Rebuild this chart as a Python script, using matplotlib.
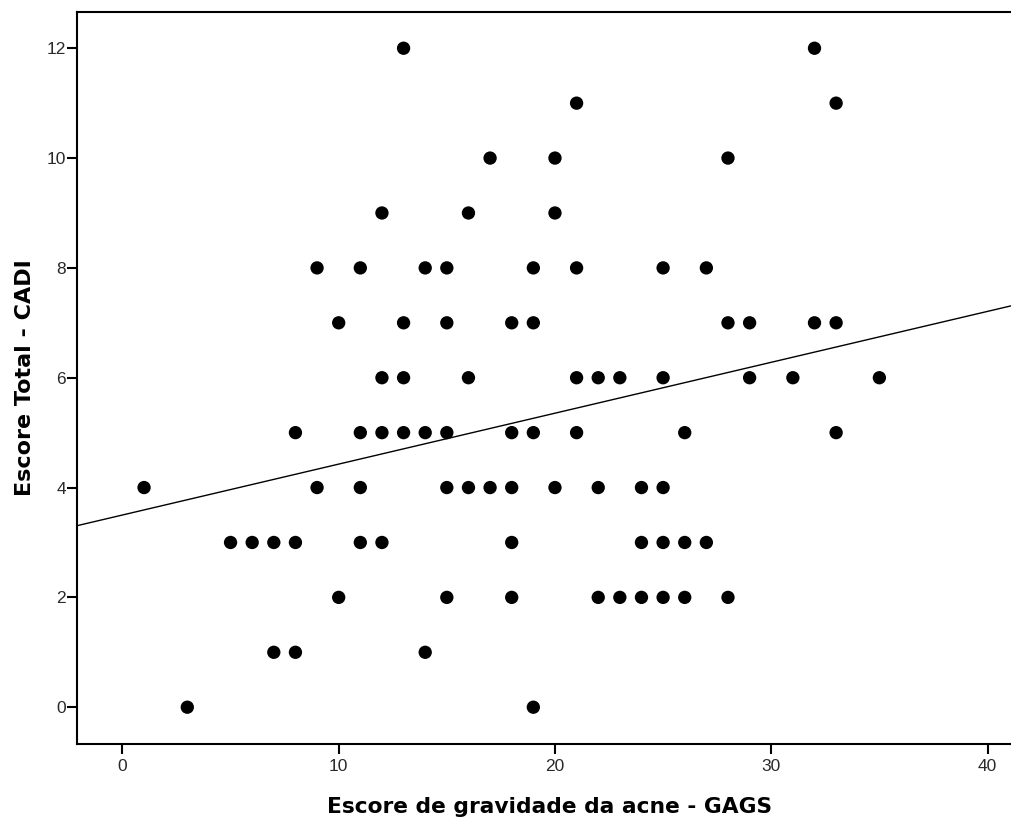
import matplotlib
matplotlib.use("Agg")
import matplotlib.pyplot as plt
import numpy as np

# Data (GAGS score, CADI total score)
x_vals = [13, 32,
          21, 33,
          17, 20, 28,
          12, 16, 20,
          9, 11, 14, 15, 19, 21, 25, 27,
          10, 13, 15, 18, 19, 28, 29, 32, 33,
          12, 13, 16, 21, 22, 23, 25, 29, 31, 35,
          8, 11, 12, 13, 14, 15, 18, 19, 21, 26, 33,
          1, 9, 11, 15, 16, 17, 18, 20, 22, 24, 25,
          5, 6, 7, 8, 11, 12, 18, 24, 25, 26, 27,
          10, 15, 18, 22, 23, 24, 25, 26, 28,
          7, 8, 14,
          3, 19]
y_vals = [12, 12,
          11, 11,
          10, 10, 10,
          9, 9, 9,
          8, 8, 8, 8, 8, 8, 8, 8,
          7, 7, 7, 7, 7, 7, 7, 7, 7,
          6, 6, 6, 6, 6, 6, 6, 6, 6, 6,
          5, 5, 5, 5, 5, 5, 5, 5, 5, 5, 5,
          4, 4, 4, 4, 4, 4, 4, 4, 4, 4, 4,
          3, 3, 3, 3, 3, 3, 3, 3, 3, 3, 3,
          2, 2, 2, 2, 2, 2, 2, 2, 2,
          1, 1, 1,
          0, 0]

# Fit line
fit_intercept = 3.50
fit_slope = 0.0927

x_ticks = [0, 10, 20, 30, 40]
y_ticks = [0, 2, 4, 6, 8, 10, 12]

plt.rcParams['font.family'] = ['Liberation Sans', 'DejaVu Sans']

fig = plt.figure(figsize=(10.12, 8.23), dpi=100)
ax = fig.add_axes([77/1012, 1 - 744/823, 1 - 77/1012 + 0.01, (744 - 12)/823])

xlim = (-2.1, 41.6)
ax.set_xlim(*xlim)
ax.set_ylim(-0.67, 12.66)

ax.scatter(x_vals, y_vals, s=92, color='black', edgecolors='none', zorder=3)

xl = np.array(xlim)
ax.plot(xl, fit_intercept + fit_slope * xl, color='black', lw=1.0, zorder=2)

ax.set_xticks(x_ticks)
ax.set_yticks(y_ticks)
ax.tick_params(direction='out', length=7.5, width=1.5, colors='black',
               labelcolor='#2a2a2a', labelsize=12.5)
ax.tick_params(axis='y', pad=0.5)
ax.tick_params(axis='x', pad=3)
for s in ['left', 'bottom', 'top']:
    ax.spines[s].set_linewidth(1.5)
ax.spines['right'].set_visible(False)

ax.set_xlabel('Escore de gravidade da acne - GAGS', fontsize=15.7, fontweight='bold',
              family=['DejaVu Sans'], labelpad=17)
ax.set_ylabel('Escore Total - CADI', fontsize=16, fontweight='bold',
              family=['DejaVu Sans'], labelpad=8)

fig.savefig('out.png', dpi=100)
